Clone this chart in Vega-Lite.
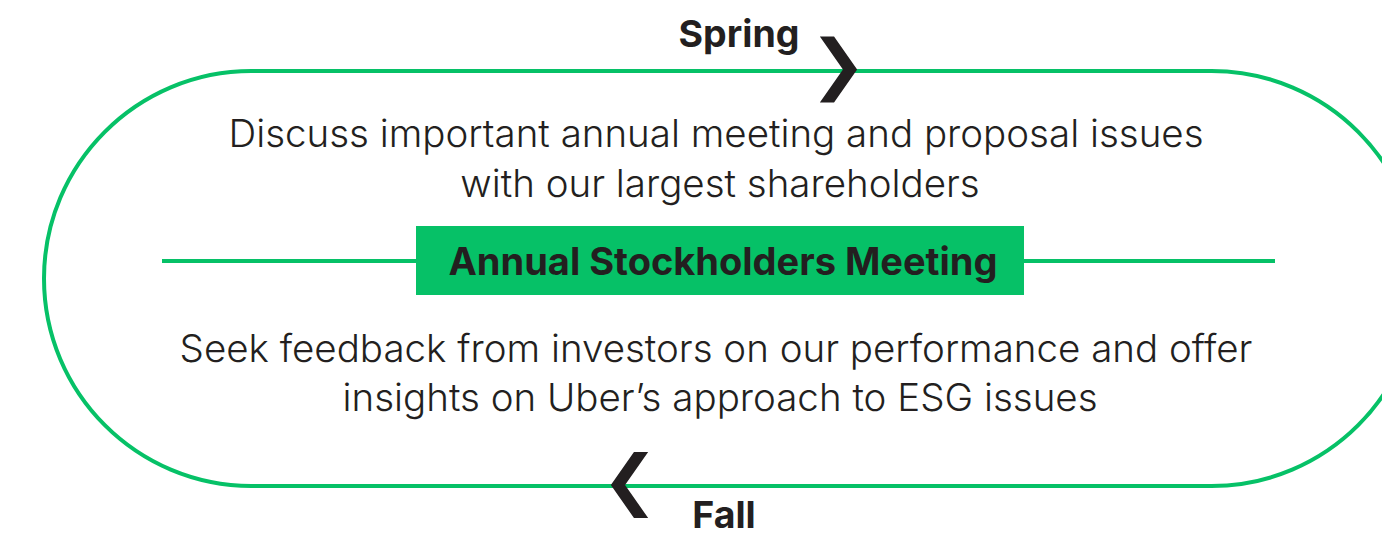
{
  "$schema": "https://vega.github.io/schema/vega-lite/v6.json",
  "width": 1382,
  "height": 534,
  "padding": 0,
  "autosize": {"type": "none"},
  "background": "white",
  "config": {"view": {"stroke": null}, "axis": {"disable": true}},
  "datasets": {
    "track": [{"x0": 44, "x1": 1419, "y0": 71, "y1": 486}],
    "divider": [{"x0": 162, "x1": 1275, "y": 261}],
    "box": [{"x0": 416, "x1": 1024, "y0": 226, "y1": 295}],
    "chevrons": [
      {"dir": "right", "x": 838, "y": 69.5},
      {"dir": "left", "x": 630, "y": 485}
    ],
    "body": [
      {"text": "Discuss important annual meeting and proposal issues", "x": 716, "y": 147},
      {"text": "with our largest shareholders", "x": 720, "y": 197},
      {"text": "Seek feedback from investors on our performance and offer", "x": 716, "y": 362},
      {"text": "insights on Uber’s approach to ESG issues", "x": 720, "y": 411}
    ],
    "seasons": [
      {"text": "Spring", "x": 739, "y": 47},
      {"text": "Fall", "x": 724, "y": 528}
    ],
    "title": [{"text": "Annual Stockholders Meeting", "x": 723, "y": 275}]
  },
  "layer": [
    {
      "data": {"name": "track"},
      "mark": {"type": "rect", "filled": false, "stroke": "#06C167", "strokeWidth": 4, "cornerRadius": 207.5},
      "encoding": {
        "x": {"field": "x0", "type": "quantitative", "scale": {"domain": [0, 1382], "nice": false, "zero": false}},
        "x2": {"field": "x1"},
        "y": {"field": "y0", "type": "quantitative", "scale": {"domain": [0, 534], "nice": false, "zero": false, "reverse": true}},
        "y2": {"field": "y1"}
      }
    },
    {
      "data": {"name": "divider"},
      "mark": {"type": "rule", "stroke": "#06C167", "strokeWidth": 4},
      "encoding": {
        "x": {"field": "x0", "type": "quantitative"},
        "x2": {"field": "x1"},
        "y": {"field": "y", "type": "quantitative"}
      }
    },
    {
      "data": {"name": "box"},
      "mark": {"type": "rect", "fill": "#06C167"},
      "encoding": {
        "x": {"field": "x0", "type": "quantitative"},
        "x2": {"field": "x1"},
        "y": {"field": "y0", "type": "quantitative"},
        "y2": {"field": "y1"}
      }
    },
    {
      "data": {"name": "chevrons"},
      "mark": {"type": "point", "filled": true, "fill": "#231F20", "opacity": 1, "size": 4356, "strokeWidth": 0},
      "encoding": {
        "x": {"field": "x", "type": "quantitative"},
        "y": {"field": "y", "type": "quantitative"},
        "shape": {
          "field": "dir", "type": "nominal", "legend": null,
          "scale": {
            "domain": ["right", "left"],
            "range": [
              "M -0.55 -1 L -0.12 -1 L 0.58 0 L -0.12 1 L -0.55 1 L 0.15 0 Z",
              "M 0.55 -1 L 0.12 -1 L -0.58 0 L 0.12 1 L 0.55 1 L -0.15 0 Z"
            ]
          }
        }
      }
    },
    {
      "data": {"name": "body"},
      "mark": {"type": "text", "font": "Inter", "fontWeight": 300, "fontSize": 38.5, "fill": "#231F20", "align": "center", "baseline": "alphabetic"},
      "encoding": {
        "x": {"field": "x", "type": "quantitative"},
        "y": {"field": "y", "type": "quantitative"},
        "text": {"field": "text"}
      }
    },
    {
      "data": {"name": "seasons"},
      "mark": {"type": "text", "font": "Inter", "fontWeight": 700, "fontSize": 37.5, "fill": "#231F20", "align": "center", "baseline": "alphabetic"},
      "encoding": {
        "x": {"field": "x", "type": "quantitative"},
        "y": {"field": "y", "type": "quantitative"},
        "text": {"field": "text"}
      }
    },
    {
      "data": {"name": "title"},
      "mark": {"type": "text", "font": "Inter", "fontWeight": 700, "fontSize": 38, "fill": "#231F20", "align": "center", "baseline": "alphabetic"},
      "encoding": {
        "x": {"field": "x", "type": "quantitative"},
        "y": {"field": "y", "type": "quantitative"},
        "text": {"field": "text"}
      }
    }
  ]
}
